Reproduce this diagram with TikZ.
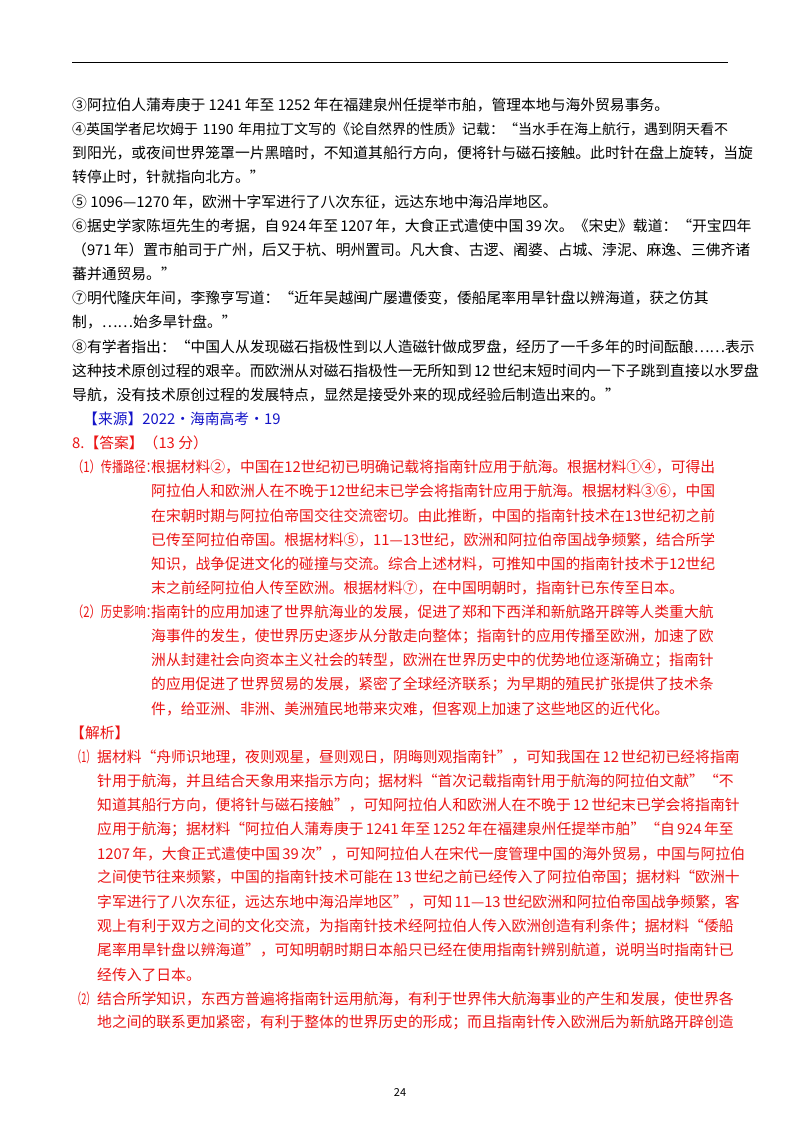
\documentclass[tikz,border=0pt]{standalone}
\usepackage{fontspec}
\usepackage{graphicx}
\setmainfont{Noto Sans CJK SC}
\XeTeXinterchartokenstate=1
\def\ig{\hskip0pt plus 3pt minus 1.5pt\relax}
\XeTeXinterchartoks 1 1 {\ig}
\XeTeXinterchartoks 1 2 {\ig}
\XeTeXinterchartoks 1 3 {\ig}
\XeTeXinterchartoks 2 1 {\ig}
\XeTeXinterchartoks 3 1 {\ig}
\XeTeXinterchartoks 3 2 {\ig}
\XeTeXinterchartoks 3 3 {\ig}
\XeTeXinterchartoks 0 1 {\ig}
\XeTeXinterchartoks 1 0 {\ig}
\XeTeXinterchartoks 0 3 {\ig}
\XeTeXinterchartoks 3 0 {\ig}
\definecolor{ansred}{RGB}{235,20,20}
\definecolor{srcblue}{RGB}{20,20,200}
\newcommand{\jl}[2]{\makebox[#1pt][s]{#2}}
\newcommand{\sq}[2]{\scalebox{#1}[1]{#2}}
\begin{document}
\begin{tikzpicture}[x=1pt,y=-1pt,
  ln/.style={anchor=west,inner sep=0pt,font=\fontsize{14.8}{16}\selectfont},
  rd/.style={ln,text=ansred}]
\useasboundingbox (0,0) rectangle (800,1132);
\fill[white] (0,0) rectangle (800,1132);
\coordinate (ra) at (72,62); \coordinate (rb) at (728,62);
\draw[line width=0.8pt] (ra) -- (rb);
\def\s{24.15}
\node[ln] (l0) at (72,105) {③阿拉伯人蒲寿庚于 1241 年至 1252 年在福建泉州任提举市舶，管理本地与海外贸易事务。};
\node[ln,font=\fontsize{14}{16}\selectfont] (l1) at (72,105+1*\s) {\jl{656}{④英国学者尼坎姆于 1190 年用拉丁文写的《论自然界的性质》记载：“当水手在海上航行，遇到阴天看不}};
\node[ln] (l2) at (72,105+2*\s) {\jl{656}{到阳光，或夜间世界笼罩一片黑暗时，不知道其船行方向，便将针与磁石接触。此时针在盘上旋转，当旋}};
\node[ln] (l3) at (72,105+3*\s) {转停止时，针就指向北方。”};
\node[ln] (l4) at (72,105+4*\s) {⑤ 1096—1270 年，欧洲十字军进行了八次东征，远达东地中海沿岸地区。};
\node[ln] (l5) at (72,105+5*\s) {\jl{656}{⑥据史学家陈垣先生的考据，自 924 年至 1207 年，大食正式遣使中国 39 次。《宋史》载道：“开宝四年}};
\node[ln] (l6) at (72,105+6*\s) {\jl{656}{（971 年）置市舶司于广州，后又于杭、明州置司。凡大食、古逻、阇婆、占城、浡泥、麻逸、三佛齐诸}};
\node[ln] (l7) at (72,105+7*\s) {蕃并通贸易。”};
\node[ln] (l8) at (72,105+8*\s) {\jl{656}{⑦明代隆庆年间，李豫亨写道：“近年吴越闽广屡遭倭变，倭船尾率用旱针盘以辨海道，获之仿其}};
\node[ln] (l9) at (72,105+9*\s) {制，……始多旱针盘。”};
\node[ln] (l10) at (72,105+10*\s) {\jl{656}{⑧有学者指出：“中国人从发现磁石指极性到以人造磁针做成罗盘，经历了一千多年的时间酝酿……表示}};
\node[ln] (l11) at (72,105+11*\s) {\jl{656}{这种技术原创过程的艰辛。而欧洲从对磁石指极性一无所知到 12 世纪末短时间内一下子跳到直接以水罗盘}};
\node[ln] (l12) at (72,105+12*\s) {导航，没有技术原创过程的发展特点，显然是接受外来的现成经验后制造出来的。”};
\node[ln,text=srcblue] (l13) at (83,105+13*\s) {【来源】2022·海南高考·19};
\node[rd] (l14) at (72,105+14*\s) {8.【答案】（13 分）};
\node[rd] (p15) at (72,105+15*\s) {\sq{0.76}{（1）传播路径：}};
\node[rd] (l15) at (151,105+15*\s) {\jl{577}{根据材料②，中国在12世纪初已明确记载将指南针应用于航海。根据材料①④，可得出}};
\node[rd] (l16) at (151,105+16*\s) {\jl{577}{阿拉伯人和欧洲人在不晚于12世纪末已学会将指南针应用于航海。根据材料③⑥，中国}};
\node[rd] (l17) at (151,105+17*\s) {\jl{577}{在宋朝时期与阿拉伯帝国交往交流密切。由此推断，中国的指南针技术在13世纪初之前}};
\node[rd] (l18) at (151,105+18*\s) {\jl{577}{已传至阿拉伯帝国。根据材料⑤，11—13世纪，欧洲和阿拉伯帝国战争频繁，结合所学}};
\node[rd] (l19) at (151,105+19*\s) {\jl{577}{知识，战争促进文化的碰撞与交流。综合上述材料，可推知中国的指南针技术于12世纪}};
\node[rd] (l20) at (151,105+20*\s) {末之前经阿拉伯人传至欧洲。根据材料⑦，在中国明朝时，指南针已东传至日本。};
\node[rd] (p21) at (72,105+21*\s) {\sq{0.76}{（2）历史影响：}};
\node[rd] (l21) at (151,105+21*\s) {\jl{577}{指南针的应用加速了世界航海业的发展，促进了郑和下西洋和新航路开辟等人类重大航}};
\node[rd] (l22) at (151,105+22*\s) {\jl{577}{海事件的发生，使世界历史逐步从分散走向整体；指南针的应用传播至欧洲，加速了欧}};
\node[rd] (l23) at (151,105+23*\s) {\jl{577}{洲从封建社会向资本主义社会的转型，欧洲在世界历史中的优势地位逐渐确立；指南针}};
\node[rd] (l24) at (151,105+24*\s) {\jl{577}{的应用促进了世界贸易的发展，紧密了全球经济联系；为早期的殖民扩张提供了技术条}};
\node[rd] (l25) at (151,105+25*\s) {件，给亚洲、非洲、美洲殖民地带来灾难，但客观上加速了这些地区的近代化。};
\node[rd] (l26) at (70,105+26*\s) {【解析】};
\node[rd] (p27) at (72,105+27*\s) {\sq{0.62}{（1）}};
\node[rd] (l27) at (97,105+27*\s) {\jl{631}{据材料“舟师识地理，夜则观星，昼则观日，阴晦则观指南针”，可知我国在 12 世纪初已经将指南}};
\node[rd] (l28) at (97,105+28*\s) {\jl{631}{针用于航海，并且结合天象用来指示方向；据材料“首次记载指南针用于航海的阿拉伯文献”“不}};
\node[rd] (l29) at (97,105+29*\s) {\jl{631}{知道其船行方向，便将针与磁石接触”，可知阿拉伯人和欧洲人在不晚于 12 世纪末已学会将指南针}};
\node[rd] (l30) at (97,105+30*\s) {\jl{631}{应用于航海；据材料“阿拉伯人蒲寿庚于 1241 年至 1252 年在福建泉州任提举市舶”“自 924 年至}};
\node[rd] (l31) at (97,105+31*\s) {\jl{631}{1207 年，大食正式遣使中国 39 次”，可知阿拉伯人在宋代一度管理中国的海外贸易，中国与阿拉伯}};
\node[rd] (l32) at (97,105+32*\s) {\jl{631}{之间使节往来频繁，中国的指南针技术可能在 13 世纪之前已经传入了阿拉伯帝国；据材料“欧洲十}};
\node[rd] (l33) at (97,105+33*\s) {\jl{631}{字军进行了八次东征，远达东地中海沿岸地区”，可知 11—13 世纪欧洲和阿拉伯帝国战争频繁，客}};
\node[rd] (l34) at (97,105+34*\s) {\jl{631}{观上有利于双方之间的文化交流，为指南针技术经阿拉伯人传入欧洲创造有利条件；据材料“倭船}};
\node[rd] (l35) at (97,105+35*\s) {\jl{631}{尾率用旱针盘以辨海道”，可知明朝时期日本船只已经在使用指南针辨别航道，说明当时指南针已}};
\node[rd] (l36) at (97,105+36*\s) {经传入了日本。};
\node[rd] (p37) at (72,105+37*\s) {\sq{0.62}{（2）}};
\node[rd] (l37) at (97,105+37*\s) {\jl{631}{结合所学知识，东西方普遍将指南针运用航海，有利于世界伟大航海事业的产生和发展，使世界各}};
\node[rd] (l38) at (97,105+38*\s) {\jl{631}{地之间的联系更加紧密，有利于整体的世界历史的形成；而且指南针传入欧洲后为新航路开辟创造}};
\node[ln,font=\fontsize{11}{12}\selectfont,anchor=center] (pg) at (400,1092) {24};
\end{tikzpicture}
\end{document}
